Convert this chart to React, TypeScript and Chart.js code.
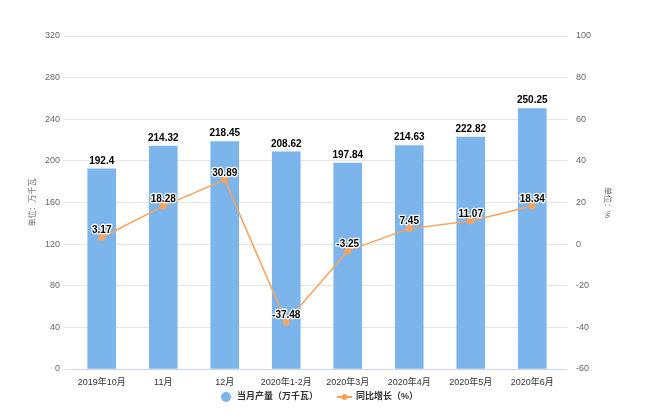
import React, { useEffect, useRef } from 'react';
import { Chart, registerables } from 'chart.js';

Chart.register(...registerables);

const categories = ['2019年10月', '11月', '12月', '2020年1-2月', '2020年3月', '2020年4月', '2020年5月', '2020年6月'];
const outputValues = [192.4, 214.32, 218.45, 208.62, 197.84, 214.63, 222.82, 250.25];
const growthValues = [3.17, 18.28, 30.89, -37.48, -3.25, 7.45, 11.07, 18.34];
const leftAxisRange = [0, 320, 40];
const rightAxisRange = [-60, 100, 20];
const seriesNames = ['当月产量（万千瓦）', '同比增长（%）'];
const axisTitles = ['单位：万千瓦', '单位：%'];

const BAR_COLOR = '#7cb5ec';
const LINE_COLOR = '#f7a35c';
const FONT = '"Liberation Sans", "Noto Sans CJK SC", sans-serif';

const decorPlugin = {
  id: 'decor',
  afterDatasetsDraw(chart: any) {
    const ctx = chart.ctx;
    ctx.save();
    ctx.font = `bold 10px ${FONT}`;
    ctx.textAlign = 'center';
    ctx.textBaseline = 'middle';
    ctx.lineJoin = 'round';
    [0, 1].forEach((i) => {
      const meta = chart.getDatasetMeta(i);
      const ds = chart.data.datasets[i];
      meta.data.forEach((el: any, j: number) => {
        const text = String(ds.data[j]);
        const y = i === 0 ? el.y - 8 : el.y - 7;
        ctx.strokeStyle = '#fff';
        ctx.lineWidth = 2.5;
        ctx.strokeText(text, el.x, y);
        ctx.fillStyle = '#000';
        ctx.fillText(text, el.x, y);
      });
    });
    ctx.restore();
  },
  afterDraw(chart: any) {
    const ctx = chart.ctx;
    const area = chart.chartArea;
    const midY = (area.top + area.bottom) / 2;
    ctx.save();
    ctx.fillStyle = '#666';
    ctx.font = `8px ${FONT}`;
    ctx.textAlign = 'center';
    ctx.textBaseline = 'middle';
    ctx.save();
    ctx.translate(33, midY);
    ctx.rotate(-Math.PI / 2);
    ctx.fillText(axisTitles[0], 0, 0);
    ctx.restore();
    ctx.save();
    ctx.translate(607, midY);
    ctx.rotate(Math.PI / 2);
    ctx.fillText(axisTitles[1], 0, 0);
    ctx.restore();

    // legend
    const ly = 397;
    ctx.font = `bold 9px ${FONT}`;
    ctx.textAlign = 'left';
    ctx.fillStyle = BAR_COLOR;
    ctx.beginPath();
    ctx.arc(226, ly, 5, 0, Math.PI * 2);
    ctx.fill();
    ctx.fillStyle = '#333';
    ctx.fillText(seriesNames[0], 237, ly);
    ctx.strokeStyle = LINE_COLOR;
    ctx.lineWidth = 2;
    ctx.beginPath();
    ctx.moveTo(337, ly);
    ctx.lineTo(352, ly);
    ctx.stroke();
    ctx.fillStyle = LINE_COLOR;
    ctx.beginPath();
    ctx.arc(344.5, ly, 3, 0, Math.PI * 2);
    ctx.fill();
    ctx.fillStyle = '#333';
    ctx.fillText(seriesNames[1], 356, ly);
    ctx.restore();
  },
};

export default function App() {
  const ref = useRef<HTMLCanvasElement | null>(null);
  useEffect(() => {
    if (!ref.current) return;
    const chart = new Chart(ref.current, {
      type: 'bar',
      data: {
        labels: categories,
        datasets: [
          {
            type: 'bar',
            label: seriesNames[0],
            data: outputValues,
            backgroundColor: BAR_COLOR,
            barThickness: 28,
            yAxisID: 'yL',
            order: 1,
          } as any,
          {
            type: 'line',
            label: seriesNames[1],
            data: growthValues,
            borderColor: LINE_COLOR,
            backgroundColor: LINE_COLOR,
            borderWidth: 1.5,
            pointRadius: 3.5,
            pointBackgroundColor: LINE_COLOR,
            pointBorderWidth: 0,
            tension: 0,
            yAxisID: 'yR',
            order: 0,
          } as any,
        ],
      },
      options: {
        responsive: false,
        animation: false,
        layout: { padding: { top: 36, left: 0, right: 0, bottom: 0 } },
        plugins: { legend: { display: false }, tooltip: { enabled: false } },
        scales: {
          x: {
            grid: { display: false, drawTicks: false },
            border: { display: true, color: '#ccd6eb' },
            ticks: { color: '#333', font: { size: 9, family: FONT }, maxRotation: 0, autoSkip: false, padding: 8 },
            afterFit: (s: any) => { s.height = 51; },
          },
          yL: {
            position: 'left',
            min: leftAxisRange[0],
            max: leftAxisRange[1],
            ticks: { stepSize: leftAxisRange[2], color: '#666', font: { size: 9, family: FONT }, padding: 3 },
            grid: { color: '#e6e6e6', tickLength: 8 },
            border: { display: false },
            afterFit: (s: any) => { s.width = 71; },
          },
          yR: {
            position: 'right',
            min: rightAxisRange[0],
            max: rightAxisRange[1],
            ticks: { stepSize: rightAxisRange[2], color: '#666', font: { size: 9, family: FONT }, padding: 8 },
            grid: { color: '#e6e6e6', tickLength: 5, drawOnChartArea: false },
            border: { display: false },
            afterFit: (s: any) => { s.width = 87; },
          },
        },
      } as any,
      plugins: [decorPlugin],
    });
    return () => chart.destroy();
  }, []);
  return (
    <div style={{ position: 'absolute', left: 0, top: 0, width: 650, height: 420, background: '#fff' }}>
      <canvas ref={ref} width={650} height={420} />
    </div>
  );
}
